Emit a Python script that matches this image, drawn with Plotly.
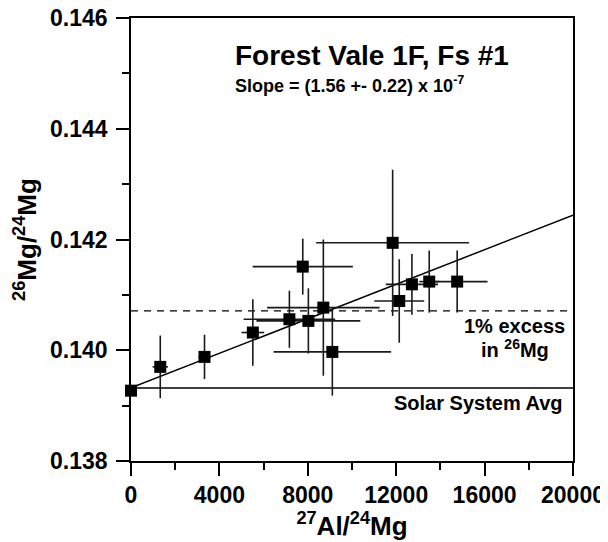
import plotly.graph_objects as go

# ---- data ----
al_mg = [0, 1324, 3326, 5513, 7167, 8026, 8703, 7772, 9110, 11839, 12138, 12711, 13494, 14759]
al_mg_err = [0, 347, 279, 512, 2071, 2350, 2545, 2267, 2659, 3460, 1130, 1180, 450, 1373]
mg_ratio = [0.13927, 0.13970, 0.13988, 0.14032, 0.14056, 0.14053, 0.14077, 0.14151,
            0.13997, 0.14194, 0.14089, 0.14119, 0.14124, 0.14124]
mg_ratio_err = [0, 0.000566, 0.000401, 0.00060, 0.000515, 0.000588, 0.00123, 0.000506,
                0.00079, 0.00132, 0.000754, 0.000548, 0.00056, 0.00056]

fit_x = [0, 20000]
fit_y = [0.13932, 0.14244]

solar_avg = 0.13932
excess_1pct = 0.14071
x_range = [0, 20000]
y_range = [0.138, 0.146]

FONT = "Liberation Sans"
OFF = 8  # page body margin offset

fig = go.Figure()

# solar system average line
fig.add_trace(go.Scatter(x=x_range, y=[solar_avg, solar_avg], mode="lines",
                         line=dict(color="black", width=1.5), hoverinfo="skip",
                         showlegend=False))
# 1% excess line
fig.add_trace(go.Scatter(x=x_range, y=[excess_1pct, excess_1pct], mode="lines",
                         line=dict(color="black", width=1.3, dash="7px,6px"),
                         hoverinfo="skip", showlegend=False))
# fit line
fig.add_trace(go.Scatter(x=fit_x, y=fit_y, mode="lines",
                         line=dict(color="black", width=1.5), showlegend=False))
# data points
fig.add_trace(go.Scatter(
    x=al_mg, y=mg_ratio, mode="markers",
    marker=dict(symbol="square", size=12, color="black"),
    error_x=dict(type="data", array=al_mg_err, color="#1a1a1a", thickness=1.6, width=0),
    error_y=dict(type="data", array=mg_ratio_err, color="#1a1a1a", thickness=1.6, width=0),
    cliponaxis=False, showlegend=False))

L, R, T, B = 130.7, 573.3, 18.3, 460.7
W, H = R - L, B - T


def px(x):
    return (x - L) / W


def py(y):
    return (B - y) / H


annotations = [
    dict(text="Forest Vale 1F, Fs #1", x=px(232.6), y=py(56), xanchor="left", yanchor="middle",
         font=dict(family=FONT, size=28, color="black", weight=700)),
    dict(text="Slope = (1.56 +- 0.22) x 10<sup>-7</sup>", x=px(232.6), y=py(85),
         xanchor="left", yanchor="middle",
         font=dict(family=FONT, size=18, color="black", weight=700)),
    dict(text="1% excess", x=px(515), y=py(326.2), xanchor="center", yanchor="middle",
         font=dict(family=FONT, size=20, color="black", weight=700)),
    dict(text="in <sup>26</sup>Mg", x=px(515), y=py(348.5), xanchor="center", yanchor="middle",
         font=dict(family=FONT, size=20, color="black", weight=700)),
    dict(text="Solar System Avg", x=px(565), y=py(403), xanchor="right", yanchor="middle",
         font=dict(family=FONT, size=20, color="black", weight=700)),
]
for a in annotations:
    a.update(xref="paper", yref="paper", showarrow=False)

axis_common = dict(showline=True, linecolor="black", linewidth=1.5, mirror=True,
                   showgrid=False, zeroline=False, ticks="outside", ticklen=13,
                   tickwidth=1.5, tickcolor="black", ticklabeloverflow="allow",
                   tickfont=dict(family=FONT, size=23, color="black", weight=700))

FW, FH = 608 - OFF, 542 - OFF
fig.update_layout(
    width=FW, height=FH,
    margin=dict(l=L - OFF, r=FW - (R - OFF), t=T - OFF, b=FH - (B - OFF), autoexpand=False),
    plot_bgcolor="white", paper_bgcolor="white",
    annotations=annotations,
    xaxis=dict(range=x_range, dtick=4000, tickformat="d", ticklabelstandoff=0,
               minor=dict(dtick=2000, ticks="outside", ticklen=7, tickwidth=1.5, tickcolor="black"),
               title=dict(text="<sup>27</sup>Al/<sup>24</sup>Mg", standoff=8,
                          font=dict(family=FONT, size=26, color="black", weight=700)),
               **axis_common),
    yaxis=dict(range=y_range, dtick=0.002, tickformat=".3f", ticklabelstandoff=4,
               minor=dict(dtick=0.001, ticks="outside", ticklen=7, tickwidth=1.5, tickcolor="black"),
               title=dict(text="<sup>26</sup>Mg/<sup>24</sup>Mg", standoff=6,
                          font=dict(family=FONT, size=26, color="black", weight=700)),
               **axis_common),
)

fig.write_html("out.html")
